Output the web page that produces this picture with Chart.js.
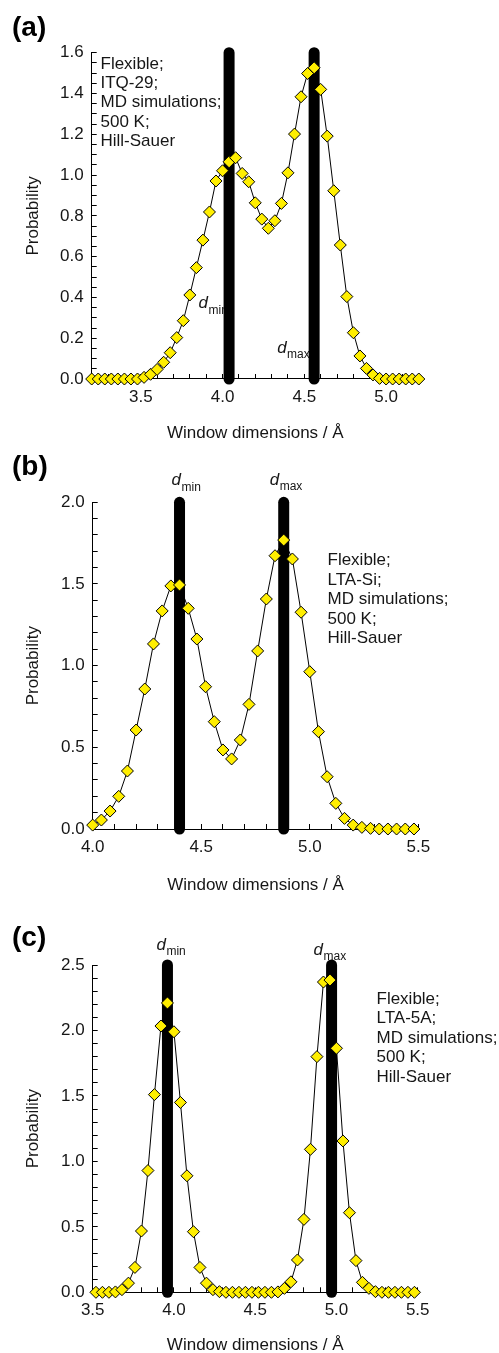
<!DOCTYPE html>
<html>
<head>
<meta charset="utf-8">
<script src="https://cdn.jsdelivr.net/npm/chart.js@4.4.1/dist/chart.umd.min.js"></script>
<style>
html,body{margin:0;padding:0;background:#fff;width:499px;height:1353px;overflow:hidden;}
canvas{position:absolute;left:0;top:0;}
</style>
</head>
<body>
<canvas id="ca" width="499" height="1400"></canvas>
<canvas id="cb" width="499" height="1400"></canvas>
<canvas id="cc" width="499" height="1400"></canvas>
<script>
// ---------- DATA ----------
// Panel (a): ITQ-29
const xA = [3.20,3.24,3.28,3.32,3.36,3.40,3.44,3.48,3.52,3.56,3.60,3.64,3.68,3.72,3.76,3.80,3.84,3.88,3.92,3.96,
            4.00,4.04,4.08,4.12,4.16,4.20,4.24,4.28,4.32,4.36,4.40,4.44,4.48,4.52,4.56,4.60,4.64,4.68,4.72,4.76,
            4.80,4.84,4.88,4.92,4.96,5.00,5.04,5.08,5.12,5.16,5.20];
const probA = [0,0,0,0,0,0,0,0,0.008,0.023,0.047,0.082,0.129,0.203,0.286,0.412,0.546,0.681,0.819,0.971,
               1.021,1.065,1.085,1.008,0.967,0.864,0.784,0.739,0.776,0.861,1.011,1.201,1.384,1.498,1.526,1.420,1.191,0.923,0.657,0.404,
               0.227,0.113,0.052,0.020,0.003,0,0,0,0,0,0];
const dA = [4.04, 4.56];          // d_min, d_max
// Panel (b): LTA-Si
const xB = [4.00,4.04,4.08,4.12,4.16,4.20,4.24,4.28,4.32,4.36,4.40,4.44,4.48,4.52,4.56,4.60,4.64,4.68,4.72,4.76,
            4.80,4.84,4.88,4.92,4.96,5.00,5.04,5.08,5.12,5.16,5.20,5.24,5.28,5.32,5.36,5.40,5.44,5.48];
const probB = [0.024,0.055,0.110,0.200,0.355,0.606,0.857,1.133,1.335,1.488,1.494,1.351,1.163,0.871,0.657,0.484,0.429,0.545,0.763,1.090,
               1.408,1.673,1.769,1.653,1.327,0.963,0.596,0.320,0.157,0.065,0.024,0.010,0.004,0,0,0,0,0];
const dB = [4.40, 4.88];
// Panel (c): LTA-5A
const xC = [3.52,3.56,3.60,3.64,3.68,3.72,3.76,3.80,3.84,3.88,3.92,3.96,4.00,4.04,4.08,4.12,4.16,4.20,4.24,4.28,
            4.32,4.36,4.40,4.44,4.48,4.52,4.56,4.60,4.64,4.68,4.72,4.76,4.80,4.84,4.88,4.92,4.96,5.00,5.04,5.08,
            5.12,5.16,5.20,5.24,5.28,5.32,5.36,5.40,5.44,5.48];
const probC = [0,0,0,0.003,0.020,0.070,0.190,0.468,0.930,1.510,2.034,2.210,1.990,1.450,0.890,0.463,0.190,0.070,0.020,0.005,
               0,0,0,0,0,0,0,0,0.003,0.030,0.080,0.247,0.557,1.092,1.800,2.370,2.385,1.864,1.156,0.608,
               0.242,0.076,0.030,0.005,0,0,0,0,0,0];
const dC = [3.96, 4.97];

const notesA = ['Flexible;','ITQ-29;','MD simulations;','500 K;','Hill-Sauer'];
const notesB = ['Flexible;','LTA-Si;','MD simulations;','500 K;','Hill-Sauer'];
const notesC = ['Flexible;','LTA-5A;','MD simulations;','500 K;','Hill-Sauer'];

// ---------- STYLE / HELPERS ----------
const FONT = '"Liberation Sans", Arial, Helvetica, sans-serif';
const INK = '#161616';
const YELLOW = '#FFEE00';
const isMult = (v, m) => Math.abs(v / m - Math.round(v / m)) < 1e-6;

const textPlugin = {
  id: 'panelText',
  beforeDatasetsDraw(chart, args, o) {
    const ctx = chart.ctx;
    ctx.save();
    ctx.fillStyle = INK;
    ctx.textBaseline = 'alphabetic';
    ctx.textAlign = 'left';
    o.dlabels.forEach(l => {
      const px = chart.scales.x.getPixelForValue(l.at) + l.dx;
      ctx.font = 'italic 17px ' + FONT;
      ctx.fillText('d', px, l.y);
      const w = ctx.measureText('d').width;
      ctx.font = '12px ' + FONT;
      ctx.fillText(l.sub, px + w + 0.5, l.y + l.subDy);
    });
    ctx.restore();
  },
  afterDraw(chart, args, o) {
    const ctx = chart.ctx;
    ctx.save();
    ctx.fillStyle = INK;
    ctx.textAlign = 'left';
    ctx.textBaseline = 'middle';
    ctx.font = '17px ' + FONT;
    o.notes.forEach((t, i) => ctx.fillText(t, o.noteX, o.noteY + i * o.noteDy));
    ctx.font = 'bold 28px ' + FONT;
    ctx.fillStyle = '#000';
    ctx.fillText(o.panel, o.panelX, o.panelY);
    ctx.restore();
  }
};

function makeChart(id, cfg) {
  const series = cfg.xs.map((x, i) => ({x: x, y: cfg.ys[i]}));
  const bars = cfg.d.map(v => ({
    data: [{x: v, y: 0}, {x: v, y: cfg.ymax}],
    showLine: true, borderColor: '#000', borderWidth: 11, borderCapStyle: 'round',
    pointRadius: 0, clip: false
  }));
  return new Chart(document.getElementById(id), {
    type: 'scatter',
    data: {
      datasets: [{
        data: series, showLine: true, borderColor: '#000', borderWidth: 1, tension: 0,
        pointStyle: 'rectRot', pointRadius: 6, pointBackgroundColor: YELLOW,
        pointBorderColor: '#000', pointBorderWidth: 1, clip: false
      }].concat(bars)
    },
    options: {
      responsive: false, animation: false, devicePixelRatio: 1,
      layout: {padding: {left: 0, top: cfg.top, right: 499 - cfg.right, bottom: 1400 - cfg.bottom - cfg.xh}},
      plugins: {
        legend: {display: false}, tooltip: {enabled: false},
        panelText: cfg.text
      },
      scales: {
        x: {
          type: 'linear', min: cfg.xmin, max: cfg.xmax,
          afterFit: s => { s.height = cfg.xh; },
          border: {display: true, color: '#000', width: 1},
          grid: {drawOnChartArea: false, tickLength: -5, tickColor: '#000', tickWidth: 1},
          ticks: {stepSize: 0.1, autoSkip: false, maxRotation: 0, padding: 13, color: INK,
                  font: {family: FONT, size: 17},
                  callback: v => isMult(v, 0.5) ? v.toFixed(1) : ''},
          title: {display: true, text: 'Window dimensions / Å', color: INK,
                  font: {family: FONT, size: 17}, padding: {top: cfg.xtp, bottom: cfg.xtp}}
        },
        y: {
          type: 'linear', min: 0, max: cfg.ymax,
          afterFit: s => { s.width = cfg.left; },
          border: {display: true, color: '#000', width: 1},
          grid: {drawOnChartArea: false, tickLength: -5, tickColor: '#000', tickWidth: 1},
          ticks: {stepSize: cfg.ystep, autoSkip: false, padding: 13, color: INK,
                  font: {family: FONT, size: 17},
                  callback: v => isMult(v, cfg.ymajor) ? v.toFixed(1) : ''},
          title: {display: true, text: 'Probability', color: INK,
                  font: {family: FONT, size: 17}, padding: {top: 23, bottom: 23}}
        }
      }
    },
    plugins: [textPlugin]
  });
}

makeChart('ca', {
  xs: xA, ys: probA, d: dA, xmin: 3.2, xmax: 5.2, ymax: 1.6, ystep: 0.05, ymajor: 0.2,
  left: 91.7, right: 418.8, top: 52.7, bottom: 379, xh: 70, xtp: 5.8,
  text: {
    dlabels: [{at: dA[0], dx: -30.5, y: 308, sub: 'min', subDy: 6}, {at: dA[1], dx: -37, y: 353, sub: 'max', subDy: 5}],
    notes: notesA, noteX: 100.5, noteY: 64, noteDy: 19.4, panel: '(a)', panelX: 12, panelY: 28.5
  }
});
makeChart('cb', {
  xs: xB, ys: probB, d: dB, xmin: 4.0, xmax: 5.5, ymax: 2.0, ystep: 0.1, ymajor: 0.5,
  left: 92.7, right: 418.3, top: 502.3, bottom: 829, xh: 70, xtp: 3.8,
  text: {
    dlabels: [{at: dB[0], dx: -8, y: 485, sub: 'min', subDy: 5.5}, {at: dB[1], dx: -14, y: 485, sub: 'max', subDy: 5}],
    notes: notesB, noteX: 327.5, noteY: 560.7, noteDy: 19.4, panel: '(b)', panelX: 12, panelY: 467
  }
});
makeChart('cc', {
  xs: xC, ys: probC, d: dC, xmin: 3.5, xmax: 5.5, ymax: 2.5, ystep: 0.1, ymajor: 0.5,
  left: 92.7, right: 417.7, top: 965, bottom: 1292.3, xh: 70, xtp: 7.1,
  text: {
    dlabels: [{at: dC[0], dx: -11, y: 949.5, sub: 'min', subDy: 5.5}, {at: dC[1], dx: -18, y: 955, sub: 'max', subDy: 5}],
    notes: notesC, noteX: 376.5, noteY: 999.3, noteDy: 19.5, panel: '(c)', panelX: 12, panelY: 938.5
  }
});
</script>
</body>
</html>
